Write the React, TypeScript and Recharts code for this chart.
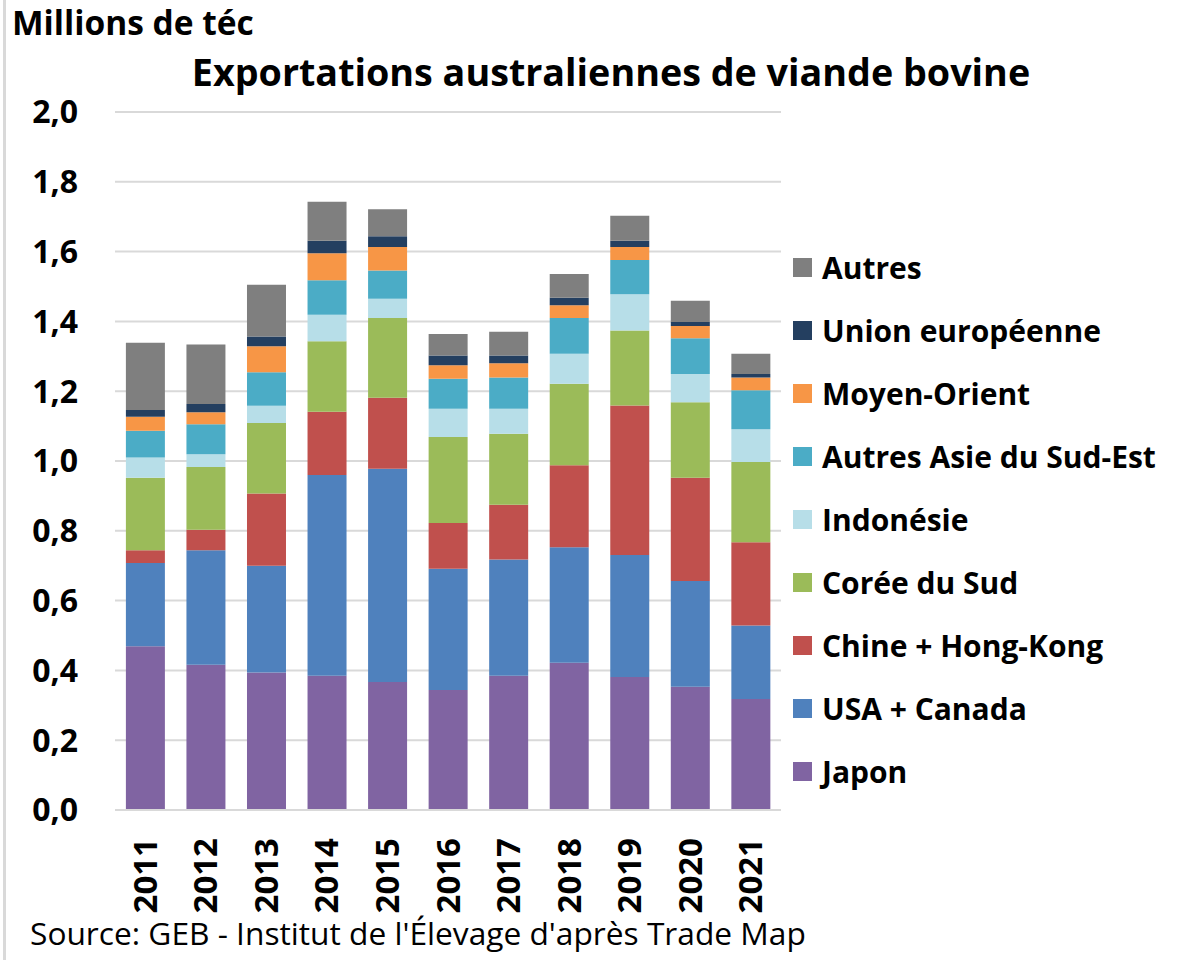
import React from 'react';
import { BarChart, Bar, XAxis, YAxis, CartesianGrid } from 'recharts';

const years = ['2011', '2012', '2013', '2014', '2015', '2016', '2017', '2018', '2019', '2020', '2021'];

// Millions de téc (bottom to top)
const japon = [0.469, 0.416, 0.394, 0.385, 0.367, 0.344, 0.385, 0.422, 0.381, 0.353, 0.318];
const usaCanada = [0.239, 0.328, 0.306, 0.575, 0.611, 0.347, 0.333, 0.331, 0.350, 0.303, 0.211];
const chineHK = [0.036, 0.059, 0.207, 0.181, 0.203, 0.131, 0.157, 0.235, 0.428, 0.296, 0.238];
const coreeSud = [0.208, 0.180, 0.202, 0.202, 0.229, 0.247, 0.203, 0.233, 0.215, 0.216, 0.230];
const indonesie = [0.058, 0.036, 0.049, 0.076, 0.055, 0.081, 0.072, 0.086, 0.104, 0.081, 0.094];
const autresAsieSE = [0.077, 0.086, 0.096, 0.099, 0.081, 0.086, 0.089, 0.103, 0.098, 0.103, 0.112];
const moyenOrient = [0.040, 0.035, 0.075, 0.077, 0.067, 0.038, 0.041, 0.036, 0.037, 0.035, 0.036];
const unionEuropeenne = [0.019, 0.023, 0.028, 0.036, 0.031, 0.028, 0.022, 0.022, 0.018, 0.011, 0.010];
const autres = [0.193, 0.171, 0.148, 0.112, 0.077, 0.062, 0.068, 0.068, 0.072, 0.061, 0.058];

const yTicks = [0, 0.2, 0.4, 0.6, 0.8, 1.0, 1.2, 1.4, 1.6, 1.8, 2.0];

const series = [
  { key: 'japon', name: 'Japon', color: '#8064A2', values: japon },
  { key: 'usa', name: 'USA + Canada', color: '#4F81BD', values: usaCanada },
  { key: 'chine', name: 'Chine + Hong-Kong', color: '#C0504D', values: chineHK },
  { key: 'coree', name: 'Corée du Sud', color: '#9BBB59', values: coreeSud },
  { key: 'indo', name: 'Indonésie', color: '#B7DEE8', values: indonesie },
  { key: 'asie', name: 'Autres Asie du Sud-Est', color: '#4BACC6', values: autresAsieSE },
  { key: 'mo', name: 'Moyen-Orient', color: '#F79646', values: moyenOrient },
  { key: 'ue', name: 'Union européenne', color: '#243F60', values: unionEuropeenne },
  { key: 'autres', name: 'Autres', color: '#7F7F7F', values: autres },
];

const data = years.map((year, i) => {
  const row: { [k: string]: number | string } = { year };
  series.forEach((s) => {
    row[s.key] = s.values[i];
  });
  return row;
});

const FONT = '"Open Sans", "Noto Sans", sans-serif';

const YearTick = (props: any) => {
  const { x, y, payload } = props;
  return (
    <text
      x={0}
      y={0}
      transform={`translate(${x - 1}, ${y + 20}) rotate(-90)`}
      textAnchor="end"
      dominantBaseline="central"
      fontFamily={FONT}
      fontWeight={700}
      fontSize={33}
      fill="#000"
    >
      {payload.value}
    </text>
  );
};

export default function App() {
  return (
    <div style={{ position: 'relative', width: 1183, height: 960, background: '#fff', fontFamily: FONT }}>
      <style>{`body{margin:0}`}</style>
      <div style={{ position: 'absolute', left: 3, top: 0, width: 3, height: 960, background: '#d9d9d9' }} />
      <div style={{ position: 'absolute', left: 12, top: -1, fontSize: 33.5, fontWeight: 700, color: '#000', whiteSpace: 'nowrap' }}>
        Millions de téc
      </div>
      <div style={{ position: 'absolute', left: 0, width: 1222, top: 46, textAlign: 'center', fontSize: 37.7, fontWeight: 700, color: '#000', whiteSpace: 'nowrap' }}>
        Exportations australiennes de viande bovine
      </div>
      <BarChart
        width={1183}
        height={960}
        data={data}
        margin={{ top: 112, right: 402, bottom: 10, left: 0 }}
        barCategoryGap="18%"
      >
        <CartesianGrid vertical={false} stroke="#d9d9d9" strokeWidth={2} />
        <XAxis
          dataKey="year"
          height={140}
          tickLine={false}
          axisLine={{ stroke: '#d9d9d9', strokeWidth: 2 }}
          tick={<YearTick />}
          interval={0}
        />
        <YAxis
          width={115}
          domain={[0, 2]}
          ticks={yTicks}
          tickFormatter={(v: number) => v.toFixed(1).replace('.', ',')}
          axisLine={false}
          tickLine={false}
          tickSize={0}
          tickMargin={37}
          tick={{ fontFamily: FONT, fontWeight: 700, fontSize: 32, fill: '#000' }}
        />
        {series.map((s) => (
          <Bar key={s.key} dataKey={s.key} name={s.name} stackId="a" fill={s.color} isAnimationActive={false} />
        ))}
      </BarChart>
      <div style={{ position: 'absolute', left: 793, top: 236 }}>
        {[...series].reverse().map((s) => (
          <div key={s.key} style={{ display: 'flex', alignItems: 'center', height: 63 }}>
            <div style={{ width: 19, height: 19, background: s.color, marginRight: 10 }} />
            <span style={{ fontSize: 30, fontWeight: 700, color: '#000', whiteSpace: 'nowrap' }}>{s.name}</span>
          </div>
        ))}
      </div>
      <div style={{ position: 'absolute', left: 30, top: 911, fontSize: 31.7, color: '#000', whiteSpace: 'nowrap' }}>
        Source: GEB - Institut de l'Élevage d'après Trade Map
      </div>
    </div>
  );
}
